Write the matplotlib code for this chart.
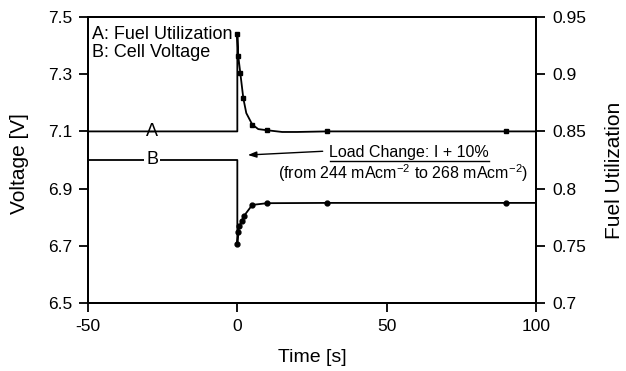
import matplotlib
matplotlib.use("Agg")
import matplotlib.pyplot as plt

plt.rcParams['font.family'] = ['Liberation Sans', 'DejaVu Sans']
plt.rcParams['mathtext.fontset'] = 'custom'
plt.rcParams['mathtext.rm'] = 'Liberation Sans'
plt.rcParams['mathtext.default'] = 'regular'

# --- data ---
# A: fuel utilization (right axis)
a_line_t = [-50, 0, 0, 0.3, 1, 2, 3, 5, 7, 10, 15, 20, 30, 90, 100]
a_line_u = [0.85, 0.85, 0.935, 0.916, 0.901, 0.879, 0.866, 0.856, 0.852, 0.851, 0.8495, 0.8495, 0.85, 0.85, 0.85]
a_mark_t = [0, 0.3, 1, 2, 5, 10, 30, 90]
a_mark_u = [0.935, 0.916, 0.901, 0.879, 0.856, 0.851, 0.85, 0.85]

# B: cell voltage (left axis)
b_line_t = [-50, 0, 0, 0.3, 0.7, 1.5, 2.2, 5, 10, 30, 90, 100]
b_line_v = [7.0, 7.0, 6.706, 6.749, 6.769, 6.788, 6.804, 6.843, 6.849, 6.85, 6.85, 6.85]
b_mark_t = [0, 0.3, 0.7, 1.5, 2.2, 5, 10, 30, 90]
b_mark_v = [6.706, 6.749, 6.769, 6.788, 6.804, 6.843, 6.849, 6.85, 6.85]

x_ticks = [-50, 0, 50, 100]
v_ticks = [6.5, 6.7, 6.9, 7.1, 7.3, 7.5]
u_ticks = [0.7, 0.75, 0.8, 0.85, 0.9, 0.95]
u_ticklabels = ['0.7', '0.75', '0.8', '0.85', '0.9', '0.95']

fig = plt.figure(figsize=(6.26, 3.71), dpi=100)
ax = fig.add_axes([88/626, 1-303/371, 448/626, 286/371])
ax2 = ax.twinx()

lw = 1.3
ax.plot(b_line_t, b_line_v, color='black', lw=lw, zorder=2)
ax.plot(b_mark_t, b_mark_v, 'o', color='black', ms=3.5, zorder=3)
ax2.plot(a_line_t, a_line_u, color='black', lw=lw, zorder=2)
ax2.plot(a_mark_t, a_mark_u, 's', color='black', ms=3.3, zorder=3)

ax.set_xlim(-50, 100)
ax.set_ylim(6.5, 7.5)
ax2.set_ylim(0.7, 0.95)
ax.set_xticks(x_ticks)
ax.set_xticklabels([str(t) for t in x_ticks])
ax.set_yticks(v_ticks)
ax.set_yticklabels([f'{v:.1f}' for v in v_ticks])
ax2.set_yticks(u_ticks)
ax2.set_yticklabels(u_ticklabels)

for a in (ax, ax2):
    for s in a.spines.values():
        s.set_linewidth(1.4)
    a.tick_params(direction='out', length=6.5, width=1.3, labelsize=12.5, pad=5)

ax.set_xlabel('Time [s]', fontsize=14, va='center')
ax.xaxis.set_label_coords(0.5, (303-357)/286)
ax.set_ylabel('Voltage [V]', fontsize=15, va='center')
ax.yaxis.set_label_coords((20-88)/448, (303-164)/286)
ax2.set_ylabel('Fuel Utilization', fontsize=15, va='center', rotation=90)
ax2.yaxis.set_label_coords((614-88)/448, (303-170)/286)

# legend-like text
ax.text(0.01, 0.94, 'A: Fuel Utilization', transform=ax.transAxes, fontsize=13, va='center', ha='left')
ax.text(0.01, 0.875, 'B: Cell Voltage', transform=ax.transAxes, fontsize=13, va='center', ha='left')

# line labels
bb = dict(facecolor='white', edgecolor='none', pad=1.5)
ax.text(-28.5, 7.1, 'A', fontsize=13, ha='center', va='center', bbox=bb, zorder=4)
ax.text(-28.5, 7.0, 'B', fontsize=13, ha='center', va='center', bbox=bb, zorder=4)

# annotation
ax.text(57.5, 7.025, 'Load Change: I + 10%', fontsize=11.5, ha='center', va='center')
ax.plot([31, 84.3], [6.995, 6.995], color='black', lw=1.0)
ax.text(55.5, 6.955, '(from 244 mAcm$^{-2}$ to 268 mAcm$^{-2}$)', fontsize=11.5, ha='center', va='center')
ax.annotate('', xy=(2.6, 7.017), xytext=(29.5, 7.031),
            arrowprops=dict(arrowstyle='-|>,head_length=0.5,head_width=0.18', color='black', lw=1.0))

fig.savefig('out.png', dpi=100)
